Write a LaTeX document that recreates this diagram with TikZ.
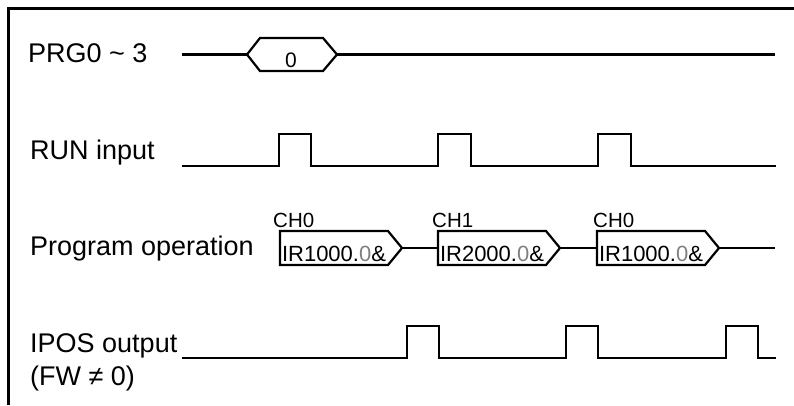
\documentclass[tikz,border=0pt]{standalone}
\usepackage{fontspec}
\setmainfont{Liberation Sans}
\usetikzlibrary{positioning}

\begin{document}
\begin{tikzpicture}[
      x=1pt, y=-1pt,
      wave/.style={line width=2.2pt, line join=miter},
      frame/.style={line width=3pt},
      signame/.style={anchor=base west, inner sep=0pt, font=\fontsize{27}{31}\selectfont},
      chname/.style={anchor=base west, inner sep=0pt, font=\fontsize{20.5}{24}\selectfont},
      boxtext/.style={anchor=base, inner sep=0pt, font=\fontsize{22}{26}\selectfont}
    ]
    \useasboundingbox (0,0) rectangle (794,405);
    % Frame
    \draw[frame] (8,405) -- (8,8) -- (794,8);

    % PRG0 ~ 3
    \node[signame] (lprg) at (28,62) {PRG0 \char`\~{} 3};
    \coordinate (prgin) at (182,54.5);
    \coordinate (hexl) at (247,54.5);
    \coordinate (hexr) at (337,54.5);
    \coordinate (prgout) at (775,54.5);
    \draw[wave] (hexl) -- (260,38) -- (323,38) -- (hexr) -- (323,71) -- (260,71) -- cycle;
    \draw[wave] (prgin) -- (hexl);
    \draw[wave] (hexr) -- (prgout);
    \node[boxtext, font=\fontsize{21}{24}\selectfont] (prgval) at (291,67) {0};

    % RUN input
    \node[signame] (lrun) at (30,159) {RUN input};
    \draw[wave] (182,166) -| (279,134) -| (311,166) -| (438,134) -| (471,166)
      -| (598,134) -| (631,166) -- (776,166);

    % Program operation
    \node[signame] (lprog) at (30,255) {Program operation};
    \draw[wave] (280,231) -- (388,231) -- (402,248) coordinate (tipa)
      -- (388,265) -- (280,265) -- cycle;
    \draw[wave] (438,231) coordinate (boxb) -- (546,231) -- (560,248) coordinate (tipb)
      -- (546,265) -- (438,265) -- cycle;
    \draw[wave] (597,231) coordinate (boxc) -- (705,231) -- (719,248) coordinate (tipc)
      -- (705,265) -- (597,265) -- cycle;
    \coordinate (progout) at (775,248);
    \draw[wave] (tipa) -- (438,248);
    \draw[wave] (tipb) -- (597,248);
    \draw[wave] (tipc) -- (progout);
    \node[chname] (cha) at (273,227) {CH0};
    \node[chname] (chb) at (432,227) {CH1};
    \node[chname] (chc) at (593,227) {CH0};
    \node[boxtext] (ira) at (334,261) {IR1000.{\color{black!50}0}\&};
    \node[boxtext] (irb) at (492,261) {IR2000.{\color{black!50}0}\&};
    \node[boxtext] (irc) at (651,261) {IR1000.{\color{black!50}0}\&};

    % IPOS output
    \node[signame] (lipos) at (30,352) {IPOS output};
    \node[signame] (lfw) at (30,385) {(FW ≠ 0)};
    \draw[wave] (182,358) -| (407,326) -| (439,358) -| (566,326) -| (598,358)
      -| (726,326) -| (758,358) -- (776,358);
  \end{tikzpicture}
\end{document}
